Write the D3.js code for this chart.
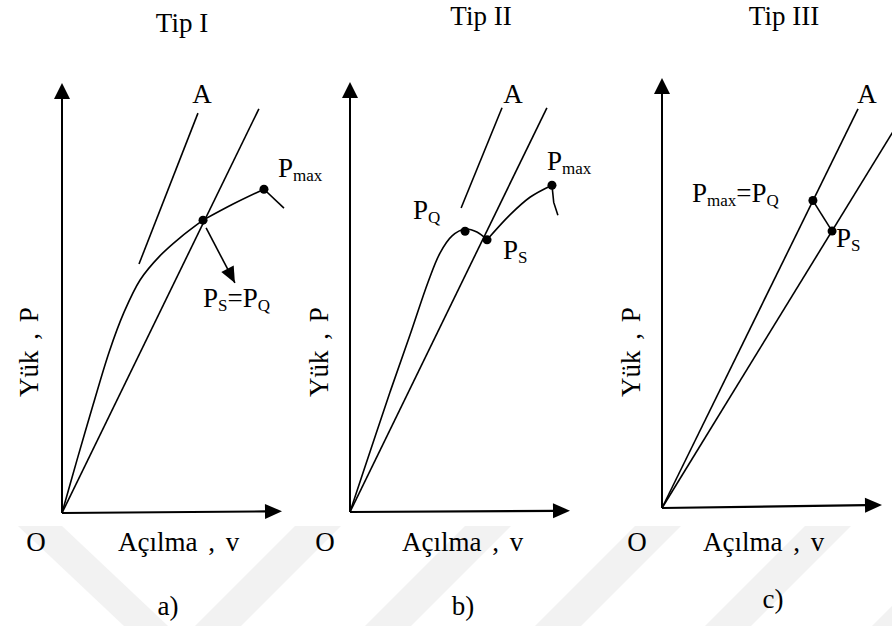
<!DOCTYPE html>
<html>
<head>
<meta charset="utf-8">
<script src="https://cdn.jsdelivr.net/npm/d3@7"></script>
<style>
  html, body { margin: 0; padding: 0; background: #fff; }
  svg { display: block; }
</style>
</head>
<body>
<svg id="fig" width="892" height="626" font-family="'Liberation Serif', 'Times New Roman', serif"></svg>
<script>
// ---- Texts -------------------------------------------------------------
const titles   = ["Tip I", "Tip II", "Tip III"];
const captions = ["a)", "b)", "c)"];
const yLabel = "Yük , P";
const xLabel = "Açılma , v";
const originLabel = "O";

// ---- Curves, in axis units (0–100 on both axes) ------------------------
// Type I: smooth rise, P_S = P_Q at the secant, then up to P_max
const curveI   = [[0,0],[6.8,12.3],[14.1,25.1],[21.4,37.4],[28.2,46.7],[35.5,54.2],[44.5,59.8],[53.6,64],[64.1,68.1]];
const tailI    = [[64.1,68.1],[78,71.9],[91.8,75.3]];
const dropI    = [[91.8,75.3],[100.9,70.9]];
const secantI  = [[0,0],[89.5,94]];
const tangentI = [[35,57.9],[61.8,93]];
const arrowI   = [[65.5,66.3],[78.6,53.5]];
const dotsI    = [[64.1,68.1],[91.8,75.3]];

// Type II: pop-in at P_Q, dip to P_S, then up to P_max
const curveII   = [[0,0],[9.1,14],[18.2,27.9],[27.3,41.2],[35.5,53.5],[40.9,60.2],[46.4,64.2],[52.3,65.8],[57.7,65.1],[62.3,63.3]];
const tailII    = [[62.3,63.3],[72.7,69.1],[81.8,73.2],[91.8,76]];
const dropII    = [[91.8,76],[92.6,72],[94.5,69]];
const secantII  = [[0,0],[89.5,94]];
const tangentII = [[50.5,70.7],[69.1,94]];
const dotsII    = [[52.3,65.3],[62.3,63.3],[91.8,76]];

// Type III: linear up to P_max = P_Q, then drop to the secant at P_S
const lineIII   = [[0,0],[89.1,92.8]];
const secantIII = [[0,0],[110,91.7]];
const stepIII   = [[68.6,71.5],[77.3,64.4]];
const dotsIII   = [[68.6,71.5],[77.3,64.4]];

// Point labels: [anchor point, dx, dy, parts]
const labelsI = [
  [[91.8,75.3], 14, -12, [["P"],["max",1]]],
  [[64.1,68.1],  0,  87, [["P"],["S",1],["="],["P"],["Q",1]]]
];
const labelsII = [
  [[52.3,65.3], -52, -12, [["P"],["Q",1]]],
  [[62.3,63.3],  16,  19, [["P"],["S",1]]],
  [[91.8,76],    -5, -15, [["P"],["max",1]]]
];
const labelsIII = [
  [[68.6,71.5], -121, 1, [["P"],["max",1],["="],["P"],["Q",1]]],
  [[77.3,64.4],    4, 16, [["P"],["S",1]]]
];

// ---- Layout ------------------------------------------------------------
const svg = d3.select("#fig");

// faint diagonal watermark bands along the bottom
const wm = svg.append("g").attr("fill", "#f2f2f2");
wm.append("path").attr("d", "M18,526 L62,526 L168,626 L124,626 Z");
[195, 365, 535, 705, 872].forEach(x0 => {
  wm.append("path").attr("d", `M${x0},626 L${x0+46},626 L${x0+146},526 L${x0+100},526 Z`);
});

const panels = [
  { ox: 62,  oy: 513, xEnd: 0.4, title: [182, 32], cap: [168, 615], O: [36, 551], xl: [118, 551], yl: [38, 352],
    curves: [curveI, tailI], lines: [secantI, tangentI, dropI], arrow: arrowI, dots: dotsI, labels: labelsI, A: [202, 103] },
  { ox: 350, oy: 512, xEnd: 0.3, title: [481, 25], cap: [463, 615], O: [325, 551], xl: [402, 551], yl: [328, 352],
    curves: [curveII, tailII], lines: [secantII, tangentII, dropII], arrow: null, dots: dotsII, labels: labelsII, A: [513, 103] },
  { ox: 662, oy: 508, xEnd: 0.7, title: [784, 25], cap: [773, 608], O: [637, 551], xl: [703, 551], yl: [640, 352],
    curves: [], lines: [lineIII, secantIII, stepIII], arrow: null, dots: dotsIII, labels: labelsIII, A: [867, 103] }
];

function arrowHead(g, p0, p1, len, half) {
  const dx = p1[0] - p0[0], dy = p1[1] - p0[1];
  const L = Math.hypot(dx, dy), ux = dx / L, uy = dy / L;
  const bx = p1[0] - ux * len, by = p1[1] - uy * len;
  g.append("path")
    .attr("d", `M${p1[0]},${p1[1]} L${bx - uy*half},${by + ux*half} L${bx + uy*half},${by - ux*half} Z`)
    .attr("fill", "#000");
}

panels.forEach((p, i) => {
  const x = d3.scaleLinear([0, 100], [p.ox, p.ox + 220]);
  const y = d3.scaleLinear([0, 100], [p.oy, p.oy - 430]);
  const g = svg.append("g");

  const straight = d3.line().x(d => x(d[0])).y(d => y(d[1]));
  const smooth = d3.line().x(d => x(d[0])).y(d => y(d[1])).curve(d3.curveCatmullRom.alpha(0.5));

  // axes with arrowheads
  g.append("path").attr("d", straight([[0,0],[0,96.5]])).attr("stroke", "#000").attr("stroke-width", 2).attr("fill", "none");
  g.append("path").attr("d", straight([[0,0],[93,p.xEnd*0.93]])).attr("stroke", "#000").attr("stroke-width", 2.2).attr("fill", "none");
  arrowHead(g, [x(0), y(0)], [x(0), y(100)], 16, 8);
  arrowHead(g, [x(0), y(0)], [x(100), y(p.xEnd)], 17, 7.5);

  // straight reference lines
  p.lines.forEach(l => g.append("path").attr("d", straight(l))
    .attr("stroke", "#000").attr("stroke-width", 1.6).attr("fill", "none"));

  // load curves
  p.curves.forEach(c => g.append("path").attr("d", smooth(c))
    .attr("stroke", "#000").attr("stroke-width", 1.6).attr("fill", "none"));

  // arrow from P_S = P_Q
  if (p.arrow) {
    const a0 = [x(p.arrow[0][0]), y(p.arrow[0][1])], a1 = [x(p.arrow[1][0]), y(p.arrow[1][1])];
    g.append("line").attr("x1", a0[0]).attr("y1", a0[1]).attr("x2", a1[0]).attr("y2", a1[1])
      .attr("stroke", "#000").attr("stroke-width", 1.6);
    arrowHead(g, a0, a1, 16, 7);
  }

  // marked points
  g.selectAll(null).data(p.dots).join("circle")
    .attr("cx", d => x(d[0])).attr("cy", d => y(d[1])).attr("r", 4.5).attr("fill", "#000");

  // point labels with subscripts
  p.labels.forEach(([pt, dx, dy, parts]) => {
    const t = g.append("text").attr("x", x(pt[0]) + dx).attr("y", y(pt[1]) + dy).attr("font-size", 27);
    let low = false;
    parts.forEach(([s, sub]) => {
      const ts = t.append("tspan").text(s);
      if (sub) { ts.attr("font-size", 17).attr("dy", low ? 0 : 4); low = true; }
      else { ts.attr("dy", low ? -4 : 0); low = false; }
    });
  });

  // texts
  g.append("text").attr("x", p.A[0]).attr("y", p.A[1]).attr("text-anchor", "middle").attr("font-size", 27).text("A");
  g.append("text").attr("x", p.title[0]).attr("y", p.title[1]).attr("text-anchor", "middle").attr("font-size", 27).text(titles[i]);
  g.append("text").attr("x", p.cap[0]).attr("y", p.cap[1]).attr("text-anchor", "middle").attr("font-size", 27).text(captions[i]);
  g.append("text").attr("x", p.O[0]).attr("y", p.O[1]).attr("text-anchor", "middle").attr("font-size", 27).text(originLabel);
  g.append("text").attr("x", p.xl[0]).attr("y", p.xl[1]).attr("font-size", 27).attr("word-spacing", 4).text(xLabel);
  g.append("text").attr("transform", `translate(${p.yl[0]},${p.yl[1]}) rotate(-90)`)
    .attr("text-anchor", "middle").attr("font-size", 27).attr("word-spacing", 4).text(yLabel);
});
</script>
</body>
</html>
